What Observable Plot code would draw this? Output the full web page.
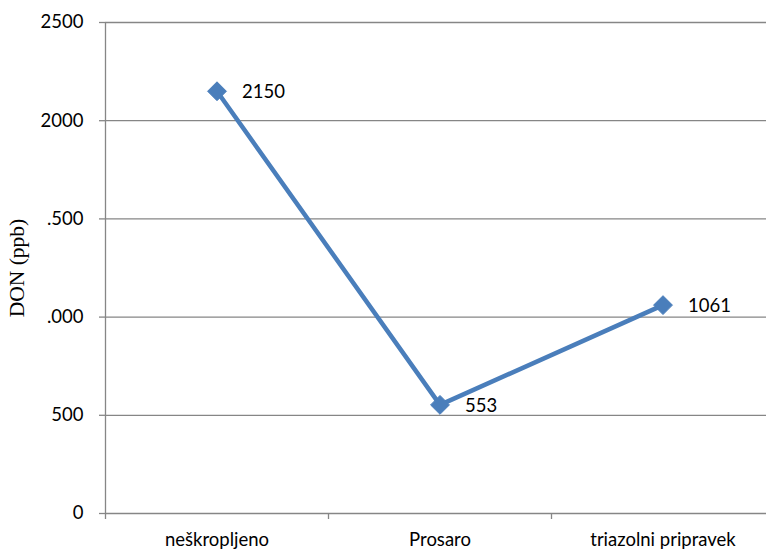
<!DOCTYPE html>
<html>
<head>
<meta charset="utf-8">
<script src="https://cdn.jsdelivr.net/npm/d3@7"></script>
<script src="https://cdn.jsdelivr.net/npm/@observablehq/plot@0.6"></script>
<style>
  html, body { margin: 0; padding: 0; background: #fff; }
  .y-title text { font-family: "Liberation Serif", "Times New Roman", serif !important; }
</style>
</head>
<body>
<div id="chart"></div>
<script>
// DON content per treatment
const categories = ["neškropljeno", "Prosaro", "triazolni pripravek"];
const values = [2150, 553, 1061];
const yTicks = [0, 500, 1000, 1500, 2000, 2500];
const yTickLabels = ["0", "500", ".000", ".500", "2000", "2500"];
const yTitle = "DON (ppb)";

const data = categories.map((c, i) => ({category: c, pos: i + 0.5, value: values[i]}));
const boundaries = d3.range(categories.length + 1);

const gridColor = "#868686";
const lineColor = "#4a7ebb";
const font = "Lato, 'Open Sans', sans-serif";

const chart = Plot.plot({
  width: 766,
  height: 550,
  marginLeft: 105,
  marginRight: 0,
  marginTop: 22,
  marginBottom: 37,
  style: {fontFamily: font, fontSize: "18.5px", color: "#000", background: "#fff"},
  x: {domain: [0, categories.length], range: [105, 105 + 223 * categories.length]},
  y: {domain: [0, 2500]},
  marks: [
    // horizontal gridlines
    Plot.ruleY(yTicks, {stroke: gridColor, strokeWidth: 1.3, strokeOpacity: 1}),
    // vertical axis line
    Plot.ruleX([0], {stroke: gridColor, strokeWidth: 1.3}),
    // y ticks and labels
    Plot.axisY({
      ticks: yTicks,
      tickFormat: (d) => yTickLabels[yTicks.indexOf(d)],
      tickSize: 6,
      tickPadding: 16,
      stroke: gridColor,
      strokeWidth: 1.3,
      label: null
    }),
    // category boundary ticks
    Plot.axisX({
      ticks: boundaries,
      tickFormat: () => "",
      tickSize: 6,
      stroke: gridColor,
      strokeWidth: 1.3,
      label: null
    }),
    // category labels
    Plot.axisX({
      ticks: data.map((d) => d.pos),
      tickFormat: (d) => categories[Math.floor(d)],
      tickSize: 0,
      tickPadding: 19,
      label: null
    }),
    // y-axis title
    Plot.text([yTitle], {
      frameAnchor: "left",
      textAnchor: "middle",
      dx: -88,
      rotate: -90,
      text: (d) => d,
      className: "y-title",
      fontFamily: "'Liberation Serif', 'Times New Roman', serif",
      fontSize: 21.5,
      fill: "#000"
    }),
    Plot.line(data, {x: "pos", y: "value", stroke: lineColor, strokeWidth: 4.5, strokeLinejoin: "round"}),
    Plot.dot(data, {x: "pos", y: "value", symbol: "diamond2", r: 8.5, fill: lineColor, stroke: lineColor, strokeWidth: 1}),
    Plot.text(data, {x: "pos", y: "value", text: (d) => String(d.value), textAnchor: "start", dx: 25, dy: 1, fill: "#000"})
  ]
});

document.getElementById("chart").appendChild(chart);
</script>
</body>
</html>
